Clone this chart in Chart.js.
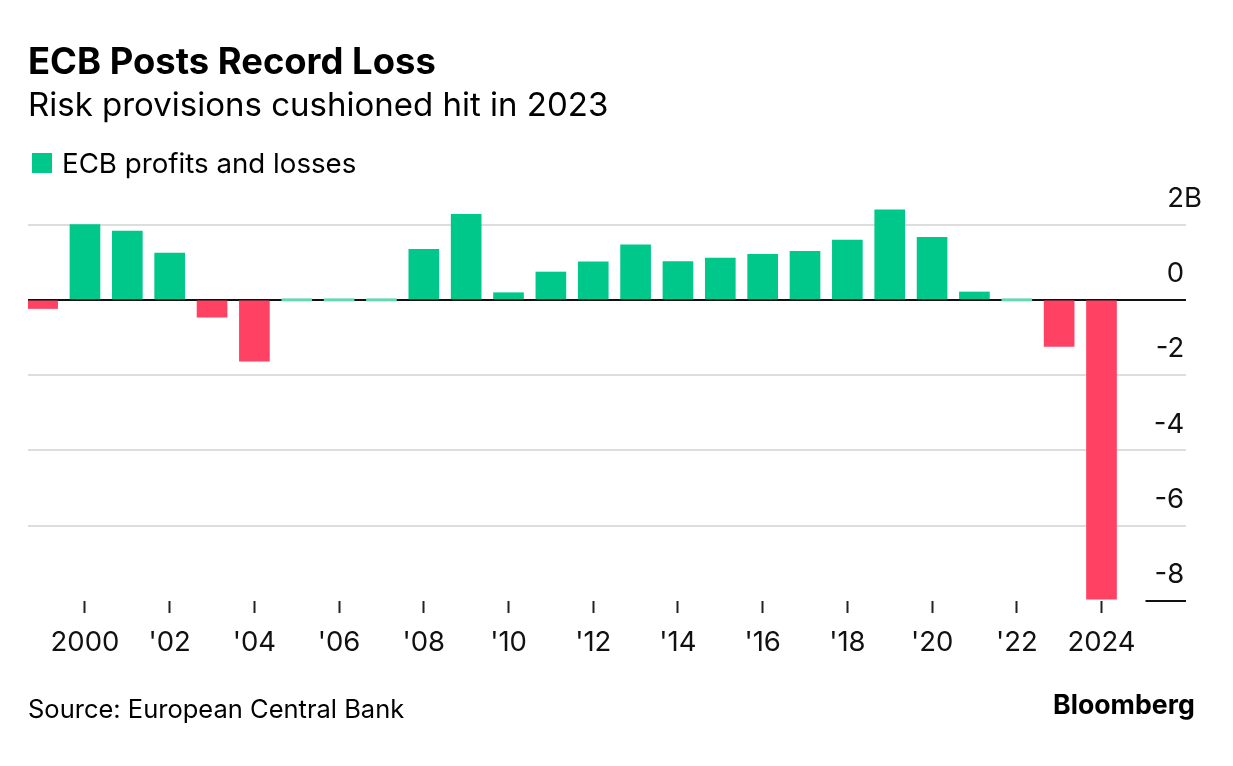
<!DOCTYPE html>
<html>
<head>
<meta charset="utf-8">
<script src="https://cdn.jsdelivr.net/npm/chart.js@4"></script>
<style>
  html, body { margin: 0; padding: 0; background: #fff; }
  body { width: 1233px; height: 766px; position: relative; overflow: hidden; font-family: Inter, sans-serif; color: #000; }
  canvas { position: absolute; left: 0; top: 0; }
  .txt { position: absolute; white-space: nowrap; }
  #title { left: 28px; top: 39px; font-size: 36.4px; font-weight: 700; }
  #subtitle { left: 28px; top: 84px; font-size: 33px; }
  #legend { left: 32px; top: 146px; font-size: 27.7px; display: flex; align-items: center; }
  #legend i { width: 20px; height: 20px; background: #00c78a; margin-right: 10px; }
  #source { left: 28px; top: 693px; font-size: 25.5px; }
  #brand { left: 1053px; top: 688px; font-size: 26.7px; font-weight: 700; }
</style>
</head>
<body>
<canvas id="chart" width="1233" height="766"></canvas>
<div class="txt" id="title">ECB Posts Record Loss</div>
<div class="txt" id="subtitle">Risk provisions cushioned hit in 2023</div>
<div class="txt" id="legend"><i></i>ECB profits and losses</div>
<div class="txt" id="source">Source: European Central Bank</div>
<div class="txt" id="brand">Bloomberg</div>
<script>
const years = [1999, 2000, 2001, 2002, 2003, 2004, 2005, 2006, 2007, 2008, 2009, 2010, 2011,
  2012, 2013, 2014, 2015, 2016, 2017, 2018, 2019, 2020, 2021, 2022, 2023, 2024];
const profits = [-0.23, 2.0, 1.83, 1.24, -0.46, -1.63, 0, 0, 0, 1.34, 2.27, 0.19, 0.74,
  1.01, 1.46, 1.02, 1.11, 1.21, 1.29, 1.59, 2.39, 1.66, 0.21, 0, -1.24, -7.95];
const xTicks = [2000, 2002, 2004, 2006, 2008, 2010, 2012, 2014, 2016, 2018, 2020, 2022, 2024];
const xTickLabels = ['2000', "'02", "'04", "'06", "'08", "'10", "'12", "'14", "'16", "'18", "'20", "'22", '2024'];
const yTicks = [2, 0, -2, -4, -6, -8];
const yTickLabels = ['2B', '0', '-2', '-4', '-6', '-8'];

const GREEN = '#00c78a';
const PALE_GREEN = '#62d8b4';
const RED = '#ff4163';

// short black rule at the bottom right, where the -8 line ends
const bottomRule = {
  id: 'bottomRule',
  afterDraw(chart) {
    const { ctx, scales: { x, y } } = chart;
    const py = y.getPixelForValue(-8);
    ctx.save();
    ctx.strokeStyle = '#111';
    ctx.lineWidth = 2;
    ctx.beginPath();
    ctx.moveTo(x.getPixelForValue(2024) + 44, py);
    ctx.lineTo(x.right, py);
    ctx.stroke();
    ctx.restore();
  }
};

new Chart(document.getElementById('chart'), {
  type: 'bar',
  data: {
    datasets: [{
      label: 'ECB profits and losses',
      // zero years are a thin sliver lying across the baseline
      data: years.map((year, i) => ({ x: year, y: profits[i] === 0 ? [-0.03, 0.03] : profits[i] })),
      backgroundColor: ctx => {
        if (Array.isArray(ctx.raw.y)) return PALE_GREEN;
        return ctx.raw.y < 0 ? RED : GREEN;
      },
      barThickness: 30
    }]
  },
  options: {
    responsive: false,
    animation: false,
    layout: { padding: { left: 28, right: 0, top: 202, bottom: 0 } },
    plugins: { legend: { display: false }, tooltip: { enabled: false } },
    scales: {
      x: {
        type: 'linear',
        offset: false,
        min: 1998.655,
        max: 2025.995,
        afterBuildTicks: scale => { scale.ticks = xTicks.map(value => ({ value })); },
        afterFit: scale => { scale.height = 165; },
        border: { display: false },
        grid: { offset: false, drawOnChartArea: false, drawTicks: true, tickLength: 12, tickColor: '#222', tickWidth: 2 },
        ticks: {
          autoSkip: false,
          maxRotation: 0,
          padding: 13,
          color: '#111',
          font: { family: 'Inter', size: 27.5 },
          callback: value => xTickLabels[xTicks.indexOf(value)]
        }
      },
      y: {
        position: 'right',
        min: -8,
        max: 2.6,
        afterBuildTicks: scale => { scale.ticks = yTicks.map(value => ({ value })); },
        afterFit: scale => { scale.width = 47; },
        border: { display: false },
        grid: {
          drawTicks: false,
          lineWidth: 2,
          color: ctx => ctx.tick.value === 0 ? '#111' : ctx.tick.value === -8 ? 'rgba(0,0,0,0)' : '#dddddd'
        },
        ticks: {
          mirror: true,
          padding: 16,
          labelOffset: -26,
          color: '#111',
          font: { family: 'Inter', size: 27.5 },
          // digits line up, the B hangs past them
          callback: value => {
            const label = yTickLabels[yTicks.indexOf(value)];
            return label.endsWith('B') ? label : label + '\u2007';
          }
        }
      }
    }
  },
  plugins: [bottomRule]
});
</script>
</body>
</html>
